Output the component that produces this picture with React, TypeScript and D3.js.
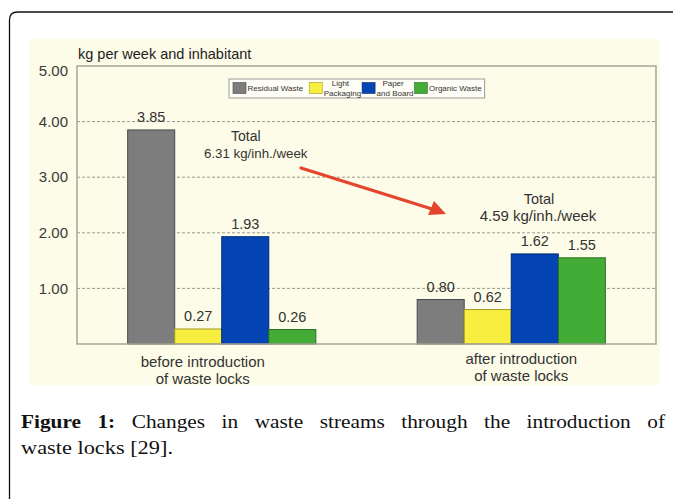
import React, { useEffect, useRef } from 'react';
import * as d3 from 'd3';

const W = 673, H = 499;

// data
const groups = ['before', 'after'];
const groupLabels = [['before introduction', 'of waste locks'], ['after introduction', 'of waste locks']];
const seriesKeys = ['residual', 'light', 'paper', 'organic'];
const legendLabels = [['Residual Waste'], ['Light', 'Packaging'], ['Paper', 'and Board'], ['Organic Waste']];
const residual = [3.85, 0.80];
const lightPackaging = [0.27, 0.62];
const paperBoard = [1.93, 1.62];
const organic = [0.26, 1.55];
const totals = ['6.31', '4.59'];
const yTicks = [1, 2, 3, 4, 5];
const yTitle = 'kg per week and inhabitant';
const captionBold = ['Figure', '1:'];
const captionLine1 = ['Changes', 'in', 'waste', 'streams', 'through', 'the', 'introduction', 'of'];
const captionLine2 = 'waste locks [29].';

const fills = ['#7d7d7d', '#f8ee40', '#0545b3', '#43ac36'];
const strokes = ['#4a4a4a', '#a39a2a', '#022a78', '#2a6d22'];

const sans = 'Liberation Sans, Arial, sans-serif';
const serif = 'Liberation Serif, Times New Roman, serif';

export default function App() {
  const ref = useRef<SVGSVGElement>(null);

  useEffect(() => {
    document.body.style.margin = '0';
    const svg = d3.select(ref.current);
    svg.selectAll('*').remove();

    const values = [residual, lightPackaging, paperBoard, organic];

    // page frame
    svg.append('path')
      .attr('d', 'M9.5 499 L9.5 20 Q9.5 12 17.5 12 L673 12')
      .attr('fill', 'none').attr('stroke', '#111').attr('stroke-width', 1.3);

    svg.append('rect').attr('x', 29).attr('y', 39).attr('width', 631).attr('height', 346)
      .attr('fill', '#fdfce8');

    const m = { left: 77, right: 656, top: 66, bottom: 344 };
    const x = d3.scaleBand().domain(groups).range([m.left, m.right]).paddingInner(0.35).paddingOuter(0.175);
    const xs = d3.scaleBand().domain(seriesKeys).range([0, x.bandwidth()]);
    const y = d3.scaleLinear().domain([0, 5]).range([m.bottom, m.top]);

    // grid
    svg.append('g').selectAll('line').data(yTicks.filter(d => d < 5)).join('line')
      .attr('x1', m.left).attr('x2', m.right)
      .attr('y1', d => y(d)).attr('y2', d => y(d))
      .attr('stroke', '#9a9a90').attr('stroke-width', 1).attr('stroke-dasharray', '3,2');

    svg.append('g').selectAll('text').data(yTicks).join('text')
      .attr('x', 68).attr('y', d => y(d) + (d === 5 ? 5 : 0)).attr('dy', '0.35em')
      .attr('text-anchor', 'end').attr('font-family', sans).attr('font-size', 15).attr('fill', '#3a3a3a')
      .text(d => d.toFixed(2));

    svg.append('text').attr('x', 78).attr('y', 59).attr('font-family', sans).attr('font-size', 14.5)
      .attr('fill', '#222').text(yTitle);

    // bars
    const gBars = svg.append('g');
    groups.forEach((g, gi) => {
      seriesKeys.forEach((s, si) => {
        const v = values[si][gi];
        const bx = x(g)! + xs(s)!;
        gBars.append('rect')
          .attr('x', bx).attr('y', y(v)).attr('width', xs.bandwidth()).attr('height', y(0) - y(v))
          .attr('fill', fills[si]).attr('stroke', strokes[si]).attr('stroke-width', 1);
        gBars.append('text')
          .attr('x', bx + xs.bandwidth() / 2).attr('y', y(v) - 8)
          .attr('text-anchor', 'middle').attr('font-family', sans).attr('font-size', 14.5).attr('fill', '#333')
          .text(v.toFixed(2));
      });
    });

    // plot frame
    svg.append('rect').attr('x', m.left).attr('y', m.top).attr('width', m.right - m.left).attr('height', m.bottom - m.top)
      .attr('fill', 'none').attr('stroke', '#a6a596').attr('stroke-width', 1.5);

    // category labels
    const labelShift = [-19, 10];
    const labelTop = [362, 359];
    groups.forEach((g, gi) => {
      groupLabels[gi].forEach((t, li) => {
        svg.append('text')
          .attr('x', x(g)! + x.bandwidth() / 2 + labelShift[gi]).attr('y', labelTop[gi] + li * 17 + 5)
          .attr('text-anchor', 'middle').attr('font-family', sans).attr('font-size', 15).attr('fill', '#333')
          .text(t);
      });
    });

    // legend
    const lg = svg.append('g');
    const legBox = lg.append('rect').attr('y', 79).attr('height', 19)
      .attr('fill', '#fefef6').attr('stroke', '#9b9b9b').attr('stroke-width', 1);
    let lx = 233;
    legendLabels.forEach((lines, i) => {
      const sw = 13;
      lg.append('rect').attr('x', lx).attr('y', 82.5).attr('width', sw).attr('height', 11)
        .attr('fill', fills[i]).attr('stroke', strokes[i]).attr('stroke-width', 0.6);
      const tx = lx + sw + 1.5;
      let w = 0;
      if (lines.length === 1) {
        const t = lg.append('text').attr('x', tx).attr('y', 91).attr('font-family', sans).attr('font-size', 8)
          .attr('fill', '#333').text(lines[0]);
        w = (t.node() as SVGTextElement).getComputedTextLength();
        lx = tx + w + 6;
      } else {
        const b = lg.append('text').attr('x', tx).attr('y', 96).attr('font-family', sans).attr('font-size', 8)
          .attr('fill', '#333').text(lines[1]);
        w = (b.node() as SVGTextElement).getComputedTextLength();
        lg.append('text').attr('x', tx + w / 2 - 2).attr('y', 86).attr('text-anchor', 'middle')
          .attr('font-family', sans).attr('font-size', 8).attr('fill', '#333').text(lines[0]);
        lx = tx + w + 1;
      }
    });
    legBox.attr('x', 229).attr('width', lx - 229 - 3);

    // annotations
    const ann = svg.append('g').attr('font-family', sans).attr('fill', '#333');
    ann.append('text').attr('x', 231).attr('y', 141).attr('font-size', 14).text('Total');
    ann.append('text').attr('x', 204).attr('y', 158).attr('font-size', 13.3).text(`${totals[0]} kg/inh./week`);
    ann.append('text').attr('x', 539).attr('y', 204).attr('font-size', 14.5).attr('text-anchor', 'middle').text('Total');
    ann.append('text').attr('x', 538).attr('y', 221).attr('font-size', 15).attr('text-anchor', 'middle').text(`${totals[1]} kg/inh./week`);

    const red = '#e5452c';
    svg.append('line').attr('x1', 301).attr('y1', 168).attr('x2', 432).attr('y2', 209)
      .attr('stroke', red).attr('stroke-width', 3.2).attr('stroke-linecap', 'round');
    svg.append('polygon').attr('points', '446,214 428,215 434,201').attr('fill', red);

    // caption, justified; glyphs stretched a little to match the wider original face
    const cap = svg.append('g').attr('font-family', serif).attr('font-size', 19.5).attr('fill', '#111');
    const words = [...captionBold.map(t => ({ t, b: true })), ...captionLine1.map(t => ({ t, b: false }))];
    const nodes = words.map(wd => cap.append('text').attr('y', 428).attr('font-weight', wd.b ? 'bold' : 'normal').text(wd.t));
    const widths = nodes.map(n => (n.node() as SVGTextElement).getComputedTextLength());
    const total = d3.sum(widths);
    const left = 21, right = 665;
    const k = (right - left - 9 * 16.5) / total;
    const gap = (right - left - total * k) / (words.length - 1);
    let cx = left;
    nodes.forEach((n, i) => {
      n.attr('x', cx).attr('textLength', widths[i] * k).attr('lengthAdjust', 'spacingAndGlyphs');
      cx += widths[i] * k + gap;
    });
    cap.append('text').attr('x', left).attr('y', 454)
      .attr('textLength', 152).attr('lengthAdjust', 'spacingAndGlyphs').text(captionLine2);
  }, []);

  return <svg ref={ref} width={W} height={H} style={{ display: 'block', background: '#fff' }} />;
}
